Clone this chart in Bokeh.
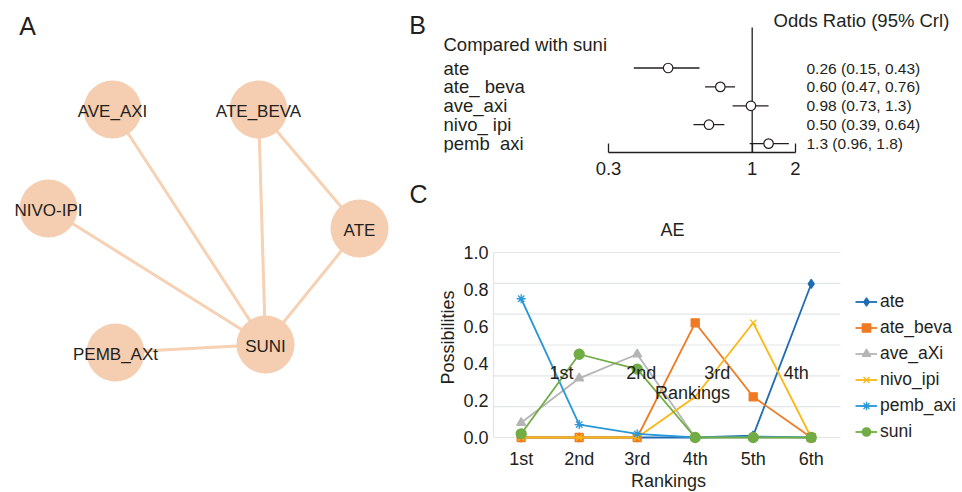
from bokeh.plotting import figure
from bokeh.layouts import row, column
from bokeh.models import (Range1d, FixedTicker, Legend, LegendItem,
                          ColumnDataSource, NumeralTickFormatter)
from bokeh.core.properties import value
from bokeh.embed import file_html
from bokeh.resources import INLINE

FONT = "Liberation Sans"
INK = "#231f20"

# ---------------- Panel A: network ----------------
node_names = ["AVE_AXI", "ATE_BEVA", "NIVO-IPI", "ATE", "PEMB_AXt", "SUNI"]
node_x = [112, 258, 48, 359, 115, 265]
node_y = [109, 109, 208, 228, 352, 344]
edge_from = ["AVE_AXI", "ATE_BEVA", "ATE_BEVA", "NIVO-IPI", "ATE", "PEMB_AXt"]
edge_to = ["SUNI", "SUNI", "ATE", "SUNI", "SUNI", "SUNI"]
panel_letters = ["A", "B", "C"]

# ---------------- Panel B: forest ----------------
treatments = ["ate", "ate_ beva", "ave_axi", "nivo_ ipi", "pemb_axi"]
or_mid = [0.26, 0.60, 0.98, 0.50, 1.3]
or_lo = [0.15, 0.47, 0.73, 0.39, 0.96]
or_hi = [0.43, 0.76, 1.3, 0.64, 1.8]
or_text = ["0.26 (0.15, 0.43)", "0.60 (0.47, 0.76)", "0.98 (0.73, 1.3)",
           "0.50 (0.39, 0.64)", "1.3 (0.96, 1.8)"]
b_ticks = [0.1, 1, 2]
b_tick_labels = ["0.3", "1", "2"]

# ---------------- Panel C: rankings ----------------
rankings = ["1st", "2nd", "3rd", "4th", "5th", "6th"]
series_names = ["ate", "ate_beva", "ave_aXi", "nivo_ipi", "pemb_axi", "suni"]
ate = [0.0, 0.0, 0.0, 0.0, 0.01, 0.83]
ate_beva = [0.0, 0.0, 0.0, 0.62, 0.22, 0.0]
ave_axi = [0.08, 0.32, 0.45, 0.0, 0.0, 0.0]
nivo_ipi = [0.0, 0.0, 0.0, 0.22, 0.62, 0.0]
pemb_axi = [0.75, 0.07, 0.02, 0.0, 0.005, 0.0]
suni = [0.02, 0.45, 0.37, 0.0, 0.0, 0.0]
c_yticks = [0.0, 0.2, 0.4, 0.6, 0.8, 1.0]
overlay_labels = ["1st", "2nd", "3rd", "4th"]

def base_fig(**kw):
    p = figure(output_backend="svg", toolbar_location=None, **kw)
    p.outline_line_color = None
    p.background_fill_color = "white"
    p.border_fill_color = "white"
    return p

A_W = 430  # left figure width (network + panel letters)

# ===== Panel A =====
pa = base_fig(width=A_W, height=492, x_range=Range1d(0, A_W), y_range=Range1d(492, 0),
              x_axis_location=None, y_axis_location=None, min_border=0)
pa.grid.visible = False
idx = {n: i for i, n in enumerate(node_names)}
pa.segment(x0=[node_x[idx[a]] for a in edge_from], y0=[node_y[idx[a]] for a in edge_from],
           x1=[node_x[idx[b]] for b in edge_to], y1=[node_y[idx[b]] for b in edge_to],
           line_color="#f6d1b3", line_width=3)
pa.scatter(node_x, node_y, size=58, fill_color="#f5cdb0", line_color=None)
pa.text(node_x, node_y, text=node_names, text_font=value(FONT), text_font_size="17px",
        text_align="center", text_baseline="middle", text_color=INK, y_offset=2)
pa.text(x=[27, 417, 418], y=[25, 24, 193], text=panel_letters, text_font=value(FONT),
        text_font_size="25px", text_color=INK, text_align="center", text_baseline="middle")

# ===== Panel B =====
B_ONE = 751.7      # canvas x of OR=1
B_DEC = 143.7      # pixels per decade
B_ROW0 = 67.5      # canvas y of first row
B_ROWH = 18.9      # row spacing
def bx(px):
    return 10 ** ((px - B_ONE) / B_DEC)
def by(py):
    return (py - B_ROW0) / B_ROWH

pb = base_fig(width=962 - A_W, height=182, x_axis_type="log",
              x_range=Range1d(bx(A_W), bx(962)), y_range=Range1d(by(152), by(0)),
              y_axis_location=None, min_border_left=0, min_border_right=0,
              min_border_top=0, min_border_bottom=30)
pb.grid.visible = False
rows = list(range(len(treatments)))
src_b = ColumnDataSource(dict(y=rows, name=treatments, mid=or_mid, lo=or_lo, hi=or_hi, txt=or_text))
pb.segment(x0=1, y0=by(27), x1=1, y1=by(152), line_color=INK, line_width=1.3)
pb.segment(x0="lo", y0="y", x1="hi", y1="y", source=src_b, line_color=INK, line_width=1.3)
pb.scatter("mid", "y", source=src_b, size=9.5, fill_color="white", line_color=INK, line_width=1.2)
pb.text(x=bx(443), y="y", text="name", source=src_b, text_font=value(FONT),
        text_font_size="18.5px", text_baseline="middle", text_color=INK)
pb.text(x=bx(806), y="y", text="txt", source=src_b, text_font=value(FONT),
        text_font_size="15.5px", text_baseline="middle", text_color=INK)
pb.text(x=[bx(443), bx(773)], y=[by(44), by(20)],
        text=["Compared with suni", "Odds Ratio (95% Crl)"], text_font=value(FONT),
        text_font_size="18.5px", text_baseline="middle", text_color=INK)
ax = pb.xaxis[0]
ax.ticker = FixedTicker(ticks=b_ticks)
ax.major_label_overrides = dict(zip(b_ticks, b_tick_labels))
ax.bounds = (b_ticks[0], b_ticks[-1])
ax.axis_line_color = INK
ax.axis_line_width = 1.3
ax.major_tick_line_color = INK
ax.major_tick_line_width = 1.3
ax.major_tick_in = 9
ax.major_tick_out = 0
ax.minor_tick_line_color = None
ax.major_label_text_font = FONT
ax.major_label_text_font_size = "18.5px"
ax.major_label_text_color = INK
ax.major_label_standoff = 9

# ===== Panel C =====
C_X1 = 520.7
C_STEP = 58.0
C_Y0 = 437.0
C_UNIT = 185.0
def cx(px):
    return 1 + (px - C_X1) / C_STEP
def cy(py):
    return (C_Y0 - py) / C_UNIT

xs = list(range(1, len(rankings) + 1))
pc = base_fig(width=962 - A_W, height=310, x_range=Range1d(cx(493), cx(962)),
              y_range=Range1d(cy(492), cy(182)), x_axis_location=None,
              min_border_left=493 - A_W, min_border_right=0, min_border_top=0,
              min_border_bottom=0)
grid_col = "#e3e6e9"
pc.grid.visible = False
grid_levels = [k / 6 for k in range(7)]
pc.segment(x0=cx(493), y0=grid_levels, x1=cx(840), y1=grid_levels,
           line_color=grid_col, line_width=1.2, level="underlay")

colors = ["#1f6cb4", "#ef7a21", "#b5b5b5", "#fbb714", "#2a97d8", "#71ac44"]
markers = ["diamond", "square", "triangle", "x", "asterisk", "circle"]
msizes = [9, 8, 9, 9, 9, 10]
series = [ate, ate_beva, ave_axi, nivo_ipi, pemb_axi, suni]
items = []
for name, vals, col, mk, ms in zip(series_names, series, colors, markers, msizes):
    lr = pc.line(xs, vals, line_color=col, line_width=1.8)
    sr = pc.scatter(xs, vals, marker=mk, size=ms, fill_color=col, line_color=col, line_width=1.3)
    items.append(LegendItem(label=name, renderers=[lr, sr]))

legend = Legend(items=items, location=(362, 50), label_text_font=FONT,
                label_text_font_size="17.5px", label_text_color=INK, glyph_width=22,
                glyph_height=21, label_height=21, spacing=5, padding=0, margin=0,
                label_standoff=3, border_line_color=None, background_fill_alpha=0)
pc.add_layout(legend)

# category labels along the bottom (x axis) and axis title
pc.text(x=xs, y=[cy(458)] * len(xs), text=rankings, text_font=value(FONT),
        text_font_size="18px", text_align="center", text_baseline="middle", text_color=INK)
pc.text(x=[cx(668)], y=[cy(480.5)], text=["Rankings"], text_font=value(FONT),
        text_font_size="18px", text_align="center", text_baseline="middle", text_color=INK)

# stray overlay labels
ov_x = [cx(561), cx(640.7), cx(716.7), cx(795.7)]
pc.text(x=ov_x, y=[cy(372)] * 4, text=overlay_labels, text_font=value(FONT),
        text_font_size="18px", text_align="center", text_baseline="middle", text_color=INK)
pc.text(x=[cx(692), cx(672)], y=[cy(392), cy(229)], text=["Rankings", "AE"],
        text_font=value(FONT), text_font_size="18px", text_align="center",
        text_baseline="middle", text_color=INK)

ya = pc.yaxis[0]
ya.ticker = FixedTicker(ticks=c_yticks)
ya.formatter = NumeralTickFormatter(format="0.0")
ya.bounds = (c_yticks[0], c_yticks[-1])
ya.axis_line_color = grid_col
ya.axis_line_width = 1.2
ya.major_tick_line_color = None
ya.major_tick_in = 0
ya.major_tick_out = 0
ya.minor_tick_line_color = None
ya.minor_tick_out = 0
ya.major_label_text_font = FONT
ya.major_label_text_font_size = "18px"
ya.major_label_text_color = INK
ya.major_label_standoff = 5
ya.axis_label = "Possibilities"
ya.axis_label_text_font = FONT
ya.axis_label_text_font_size = "18px"
ya.axis_label_text_font_style = "normal"
ya.axis_label_text_color = INK
ya.axis_label_standoff = 2

layout = row(pa, column(row(pb), row(pc)))
open("out.html", "w").write(file_html(layout, INLINE))
